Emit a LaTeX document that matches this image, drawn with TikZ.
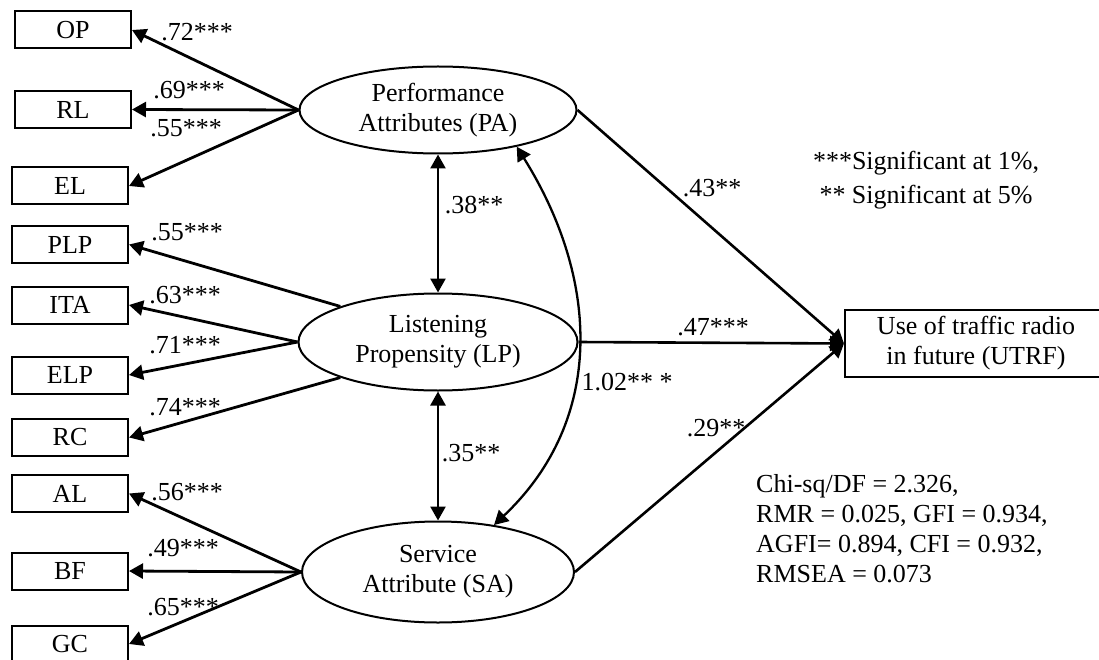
\documentclass[tikz,border=0pt]{standalone}
\usepackage{fontspec}
\setmainfont{Liberation Serif}
\usetikzlibrary{shapes.geometric,arrows.meta}
\begin{document}
\begin{tikzpicture}[x=1pt,y=-1pt,
  font=\fontsize{26}{30}\selectfont,
  ind/.style={draw,line width=2pt,minimum width=116pt,minimum height=37pt,inner sep=0pt},
  lat/.style={draw,ellipse,line width=2pt,inner sep=0pt,align=center},
  head/.tip={Triangle[length=14pt,width=15pt]},
  load/.style={line width=2.8pt,-head},
  effect/.style={line width=2.6pt,-head},
  cov/.style={line width=2.6pt,head-head},
  coef/.style={inner sep=0pt}
]
\useasboundingbox (0,0) rectangle (1099,660);

% latent constructs
\node[lat,minimum width=277pt,minimum height=87pt] (PA) at (438,110) {Performance\\Attributes (PA)};
\node[lat,minimum width=279pt,minimum height=97pt] (LP) at (438,342) {Listening\\Propensity (LP)};
\node[lat,minimum width=272pt,minimum height=101pt] (SA) at (438,572) {Service\\Attribute (SA)};

% observed indicators
\node[ind] (OP)  at (73,30)    {OP};
\node[ind] (RL)  at (73,109.5) {RL};
\node[ind] (EL)  at (70,186)   {EL};
\node[ind] (PLP) at (70,244.5) {PLP};
\node[ind] (ITA) at (70,305)   {ITA};
\node[ind] (ELP) at (70,375)   {ELP};
\node[ind] (RC)  at (70,437.5) {RC};
\node[ind] (AL)  at (70,493.5) {AL};
\node[ind] (BF)  at (70,571)   {BF};
\node[ind] (GC)  at (70,644)   {GC};

% outcome
\node[ind,minimum width=262pt,minimum height=67pt,align=center] (UTRF) at (976,343.5)
  {Use of traffic radio\\in future (UTRF)};

% factor loadings
\draw[load] (PA.west) -- (OP.east);
\draw[load] (PA.west) -- (RL.east);
\draw[load] (PA.west) -- (EL.east);
\draw[load] (LP.160) -- (PLP.east);
\draw[load] (LP.west) -- (ITA.east);
\draw[load] (LP.west) -- (ELP.east);
\draw[load] (LP.200) -- (RC.east);
\draw[load] (SA.west) -- (AL.east);
\draw[load] (SA.west) -- (BF.east);
\draw[load] (SA.west) -- (GC.east);

\node[coef] at (197,32)  {.72***};
\node[coef] at (189,90)  {.69***};
\node[coef] at (186,128) {.55***};
\node[coef] at (187,232) {.55***};
\node[coef] at (185,295) {.63***};
\node[coef] at (185,345) {.71***};
\node[coef] at (185,407) {.74***};
\node[coef] at (187,492) {.56***};
\node[coef] at (183,548) {.49***};
\node[coef] at (183,607) {.65***};

% correlations between constructs
\draw[cov] (PA.south) -- (LP.north);
\draw[cov] (LP.south) -- (SA.north);
\draw[cov,line width=2.3pt] (PA.-25) .. controls (600,280) and (605,420) .. (SA.40);
\node[coef] at (474,205) {.38**};
\node[coef] at (471,453) {.35**};
\node[coef] at (627,382) {1.02** *};

% structural paths
\draw[effect] (PA.east) -- (UTRF.west);
\draw[effect] (LP.east) -- (UTRF.west);
\draw[effect] (SA.east) -- (UTRF.west);
\node[coef] at (712,188) {.43**};
\node[coef] at (713,327) {.47***};
\node[coef] at (716,428) {.29**};

% significance note and fit indices
\node[coef,align=center] (note) at (926,180) {***Significant at 1\%,\\[4pt]** Significant at 5\%};
\node[coef,align=left,anchor=west] (fit) at (756,529)
  {Chi-sq/DF = 2.326,\\RMR = 0.025, GFI = 0.934,\\AGFI= 0.894, CFI = 0.932,\\RMSEA = 0.073};
\end{tikzpicture}
\end{document}
